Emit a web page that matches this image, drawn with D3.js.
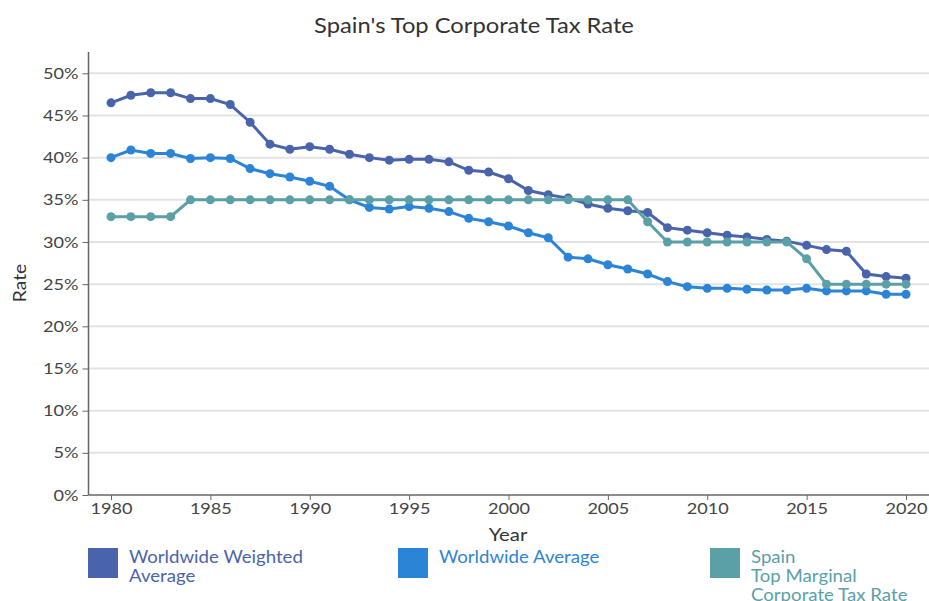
<!DOCTYPE html>
<html><head><meta charset="utf-8">
<script src="https://cdn.jsdelivr.net/npm/d3@7"></script>
<style>
body{margin:0;background:#fff;font-family:Lato,"Open Sans",sans-serif;}
svg{display:block;}
</style></head>
<body>
<svg id="chart" width="929" height="601"></svg>
<script>
const years = d3.range(1980, 2021);
const worldwideWeighted = [46.5,47.4,47.7,47.7,47.0,47.0,46.3,44.2,41.6,41.0,
  41.3,41.0,40.4,40.0,39.7,39.8,39.8,39.5,38.5,38.3,
  37.5,36.1,35.6,35.2,34.5,34.0,33.7,33.5,31.7,31.4,
  31.1,30.8,30.6,30.3,30.1,29.6,29.1,28.9,26.2,25.9,25.7];
const worldwideAverage = [40.0,40.9,40.5,40.5,39.9,40.0,39.9,38.7,38.1,37.7,
  37.2,36.6,35.0,34.1,33.9,34.2,34.0,33.6,32.8,32.4,
  31.9,31.1,30.5,28.2,28.0,27.3,26.8,26.2,25.3,24.7,
  24.5,24.5,24.4,24.3,24.3,24.5,24.2,24.2,24.2,23.8,23.8];
const spainRate = [33,33,33,33,35,35,35,35,35,35,
  35,35,35,35,35,35,35,35,35,35,
  35,35,35,35,35,35,35,32.4,30,30,
  30,30,30,30,30,28,25,25,25,25,25];
const yTicks = [0,5,10,15,20,25,30,35,40,45,50];
const xTicks = [1980,1985,1990,1995,2000,2005,2010,2015,2020];
const seriesNames = [["Worldwide Weighted","Average"],["Worldwide Average"],["Spain","Top Marginal","Corporate Tax Rate"]];
const colors = ["#4a64ab","#2c84d7","#5b9fa7"];

const series = [worldwideWeighted, worldwideAverage, spainRate];
const svg = d3.select("#chart");
const x = d3.scaleLinear().domain([1980,2020]).range([111,906]);
const y = d3.scaleLinear().domain([0,50]).range([495,73.3]);
const axisLeft = 88.5, axisTop = 52, axisRight = 929;

svg.append("text").attr("x",474).attr("y",33).attr("text-anchor","middle")
  .attr("font-size",21).attr("fill","#333").text("Spain's Top Corporate Tax Rate");

// gridlines
svg.append("g").selectAll("line").data(yTicks.filter(d=>d>0)).join("line")
  .attr("x1",axisLeft).attr("x2",axisRight).attr("y1",d=>y(d)).attr("y2",d=>y(d))
  .attr("stroke","#e3e3e3").attr("stroke-width",2);

// y axis
const ya = svg.append("g").attr("transform",`translate(${axisLeft},0)`)
  .call(d3.axisLeft(y).tickValues(yTicks).tickFormat(d=>d+"%").tickSize(6).tickPadding(4));
ya.select(".domain").remove();
ya.selectAll(".tick line").attr("stroke","#666");
ya.selectAll(".tick text").attr("font-size",16).attr("fill","#444").attr("font-family","Lato");
svg.append("line").attr("x1",axisLeft).attr("x2",axisLeft).attr("y1",axisTop).attr("y2",495)
  .attr("stroke","#666").attr("stroke-width",1.5);

// x axis
const xa = svg.append("g").attr("transform",`translate(0,495)`)
  .call(d3.axisBottom(x).tickValues(xTicks).tickFormat(d3.format("d")).tickSize(5).tickPadding(3));
xa.select(".domain").remove();
xa.selectAll(".tick line").attr("stroke","#666");
xa.selectAll(".tick text").attr("font-size",16).attr("fill","#444").attr("font-family","Lato");
svg.append("line").attr("x1",axisLeft).attr("x2",axisRight).attr("y1",495).attr("y2",495)
  .attr("stroke","#666").attr("stroke-width",1.5);

svg.append("text").attr("x",508).attr("y",541).attr("text-anchor","middle")
  .attr("font-size",18).attr("fill","#333").text("Year");
svg.append("text").attr("transform","translate(26,283) rotate(-90)").attr("text-anchor","middle")
  .attr("font-size",17).attr("fill","#333").text("Rate");

// lines
const line = d3.line().x((d,i)=>x(years[i])).y(d=>y(d));
series.forEach((s,k)=>{
  const g = svg.append("g");
  g.append("path").attr("d",line(s)).attr("fill","none").attr("stroke",colors[k]).attr("stroke-width",3);
  g.selectAll("circle").data(s).join("circle")
    .attr("cx",(d,i)=>x(years[i])).attr("cy",d=>y(d)).attr("r",4.5).attr("fill",colors[k]);
});

// legend
const legX = [88,398,710];
seriesNames.forEach((names,k)=>{
  const g = svg.append("g");
  g.append("rect").attr("x",legX[k]).attr("y",548).attr("width",30).attr("height",30).attr("fill",colors[k]);
  names.forEach((t,j)=>{
    g.append("text").attr("x",legX[k]+41).attr("y",563+j*19).attr("font-size",16.5)
      .attr("fill",colors[k]).text(t);
  });
});

// slightly wider glyphs, as in the reference rendering
svg.selectAll("text").each(function(){
  const w = this.getComputedTextLength();
  if (w > 0) {
    this.setAttribute("textLength", (w*1.13).toFixed(1));
    this.setAttribute("lengthAdjust","spacingAndGlyphs");
  }
});
</script>
</body></html>
